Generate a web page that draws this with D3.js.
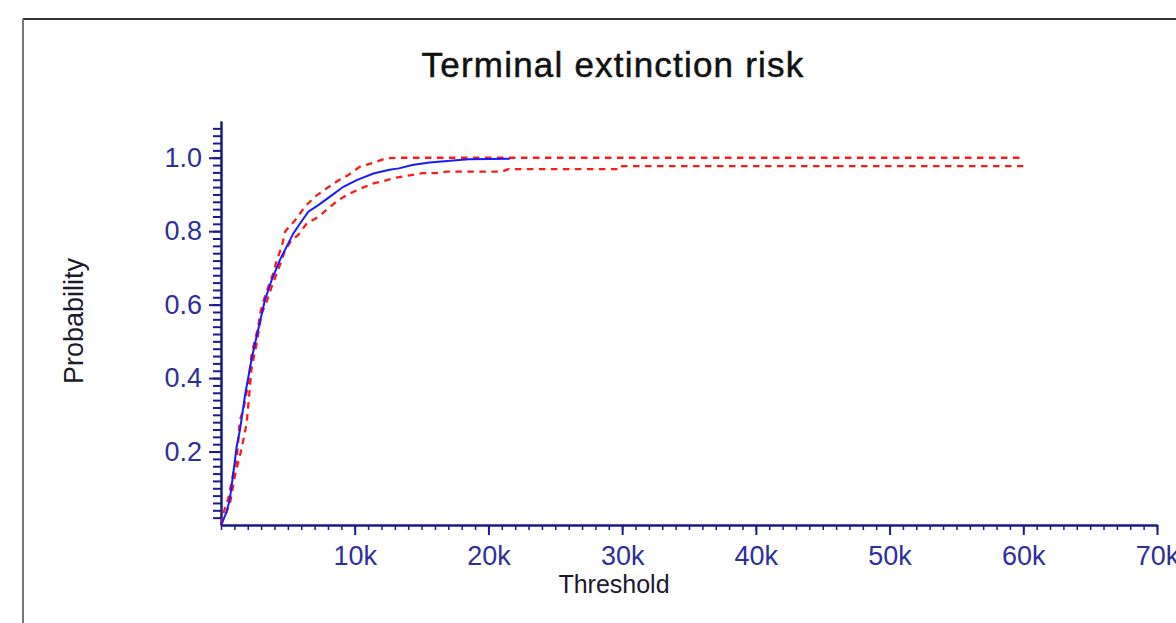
<!DOCTYPE html>
<html>
<head>
<meta charset="utf-8">
<script src="https://cdn.jsdelivr.net/npm/d3@7"></script>
<style>
  body { margin: 0; background: #fff; }
  text { font-family: "Liberation Sans", Arial, sans-serif; }
</style>
</head>
<body>
<div id="chart"></div>
<script>
// threshold in thousands, probability
const medianX = [0, 0.43, 0.67, 0.92, 1.17, 1.42, 1.8, 2.3, 2.8, 3.29, 3.79, 4.41, 4.91, 5.41, 5.91, 6.53, 7.28, 8.15, 9.15, 10.15, 11.4, 12.6, 13.3, 14.3, 15.6, 18.5, 21.6];
const medianY = [0, 0.036, 0.073, 0.141, 0.213, 0.259, 0.354, 0.454, 0.535, 0.613, 0.667, 0.722, 0.758, 0.794, 0.821, 0.853, 0.871, 0.894, 0.921, 0.939, 0.957, 0.967, 0.971, 0.980, 0.987, 0.996, 0.997];

const upperX = [0, 0.17, 0.55, 0.92, 1.17, 1.42, 1.67, 2.04, 2.3, 2.54, 2.79, 2.92, 3.16, 3.54, 3.91, 4.17, 4.54, 4.79, 5.54, 6.28, 7.03, 7.91, 8.65, 9.52, 10.4, 11.4, 12.3, 13.1, 60];
const upperY = [0, 0.032, 0.073, 0.141, 0.177, 0.286, 0.313, 0.386, 0.467, 0.504, 0.540, 0.576, 0.608, 0.649, 0.685, 0.721, 0.758, 0.799, 0.830, 0.867, 0.894, 0.917, 0.935, 0.953, 0.976, 0.986, 0.998, 1.0, 1.0];

const lowerX = [0, 0.67, 1.05, 1.55, 1.92, 2.3, 2.67, 3.04, 3.42, 3.79, 4.17, 4.54, 4.79, 5.29, 5.78, 6.41, 7.28, 8.03, 8.78, 9.65, 10.5, 11.4, 12.4, 13.1, 14.1, 15.1, 16.0, 16.9, 21.0, 21.5, 29.9, 30.0, 60];
const lowerY = [0, 0.059, 0.136, 0.209, 0.277, 0.431, 0.495, 0.576, 0.608, 0.649, 0.685, 0.721, 0.749, 0.776, 0.790, 0.821, 0.839, 0.862, 0.885, 0.903, 0.917, 0.930, 0.939, 0.946, 0.952, 0.958, 0.958, 0.962, 0.962, 0.969, 0.969, 0.977, 0.977];

const xTicks = [10000, 20000, 30000, 40000, 50000, 60000, 70000];
const yTicks = [0.2, 0.4, 0.6, 0.8, 1.0];

const W = 1176, H = 623;
const axisColor = "#1b1b87", labelColor = "#2e2e9e";

const svg = d3.select("#chart").append("svg")
    .attr("width", W)
    .attr("height", H);

// frame
svg.append("line").attr("x1", 23).attr("y1", 19).attr("x2", W).attr("y2", 19)
    .attr("stroke", "#333").attr("stroke-width", 2);
svg.append("line").attr("x1", 23).attr("y1", 19).attr("x2", 23).attr("y2", H)
    .attr("stroke", "#777").attr("stroke-width", 2);

const x = d3.scaleLinear().domain([0, 70000]).range([221, 1157]);
const y = d3.scaleLinear().domain([0, 1.1]).range([525, 121]);

function styleAxis(g) {
    g.selectAll("path.domain").attr("stroke", axisColor).attr("stroke-width", 2);
    g.selectAll(".tick line").attr("stroke", axisColor).attr("stroke-width", 2);
    g.selectAll(".tick text").attr("fill", labelColor).attr("font-size", 27)
        .attr("font-family", "Liberation Sans, Arial, sans-serif");
}

// x minor + major
svg.append("g")
    .attr("transform", "translate(0,525)")
    .call(d3.axisBottom(x).tickValues(d3.range(0, 70001, 1000)).tickSize(5).tickSizeOuter(0).tickFormat(""))
    .call(styleAxis)
    .call(g => g.selectAll(".tick line").attr("stroke-width", 1.5));
svg.append("g")
    .attr("transform", "translate(0,525)")
    .call(d3.axisBottom(x).tickValues(xTicks).tickSize(10).tickSizeOuter(0).tickPadding(11)
        .tickFormat(d => (d / 1000) + "k"))
    .call(styleAxis);

// y minor + major
svg.append("g")
    .attr("transform", "translate(221,0)")
    .call(d3.axisLeft(y).tickValues(d3.range(1, 55).map(i => i * 0.02)).tickSize(8).tickSizeOuter(0).tickFormat(""))
    .call(styleAxis);
svg.append("g")
    .attr("transform", "translate(221,0)")
    .call(d3.axisLeft(y).tickValues(yTicks).tickSize(12).tickSizeOuter(0).tickPadding(7)
        .tickFormat(d3.format(".1f")))
    .call(styleAxis);

const line = d3.line().x(d => x(d[0] * 1000)).y(d => y(d[1]));

svg.append("path")
    .datum(d3.zip(upperX, upperY))
    .attr("d", line)
    .attr("fill", "none")
    .attr("stroke", "#ff1a1a")
    .attr("stroke-width", 2.3)
    .attr("stroke-dasharray", "6.5,5.5");
svg.append("path")
    .datum(d3.zip(lowerX, lowerY))
    .attr("d", line)
    .attr("fill", "none")
    .attr("stroke", "#ff1a1a")
    .attr("stroke-width", 2.3)
    .attr("stroke-dasharray", "6.5,5.5");
svg.append("path")
    .datum(d3.zip(medianX, medianY))
    .attr("d", line)
    .attr("fill", "none")
    .attr("stroke", "#1a1aff")
    .attr("stroke-width", 2);

// titles
svg.append("text")
    .attr("x", 613).attr("y", 77)
    .attr("text-anchor", "middle")
    .attr("font-size", 35)
    .attr("letter-spacing", 1.2)
    .attr("fill", "#111")
    .attr("stroke", "#111")
    .attr("stroke-width", 0.5)
    .text("Terminal extinction risk");

svg.append("text")
    .attr("x", 614).attr("y", 593)
    .attr("text-anchor", "middle")
    .attr("font-size", 25)
    .attr("fill", "#1a1a2e")
    .text("Threshold");

svg.append("text")
    .attr("transform", "translate(83,321) rotate(-90)")
    .attr("text-anchor", "middle")
    .attr("font-size", 27)
    .attr("fill", "#1a1a2e")
    .text("Probability");
</script>
</body>
</html>
